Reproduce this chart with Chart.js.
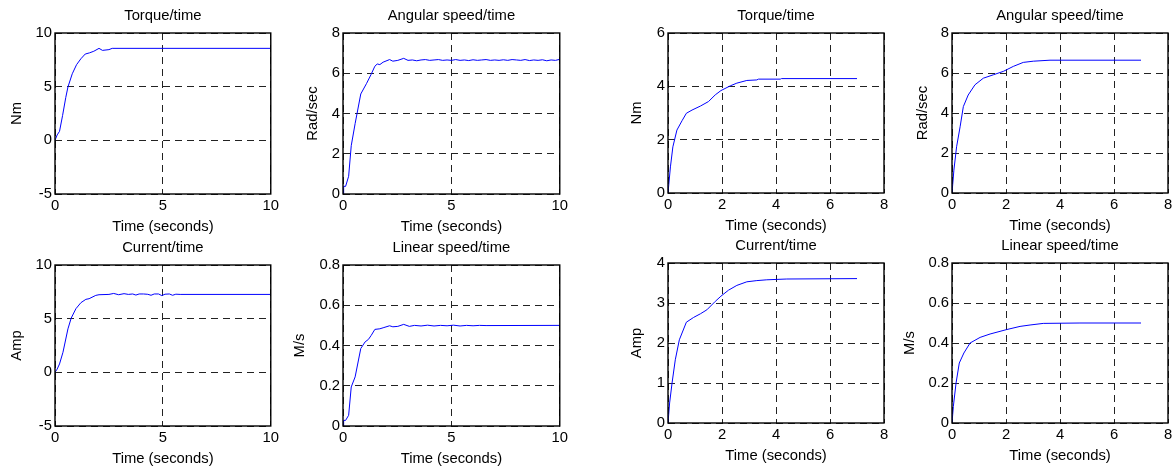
<!DOCTYPE html>
<html>
<head>
<meta charset="utf-8">
<script src="https://cdn.jsdelivr.net/npm/chart.js@4.4.1/dist/chart.umd.min.js"></script>
<style>
    html, body { margin: 0; padding: 0; background: #fff; }
    body { width: 1176px; height: 471px; position: relative; overflow: hidden; }
    .panel { position: absolute; }
</style>
</head>
<body>
<script>
// ===================================
// Data
// ===================================

// tick values
const xTicksLeft = [0, 5, 10];
const xTicksRight = [0, 2, 4, 6, 8];
const torqueTicksLeft = [-5, 0, 5, 10];
const angularTicksLeft = [0, 2, 4, 6, 8];
const currentTicksLeft = [-5, 0, 5, 10];
const linearTicksLeft = [0, 0.2, 0.4, 0.6, 0.8];
const torqueTicksRight = [0, 2, 4, 6];
const angularTicksRight = [0, 2, 4, 6, 8];
const currentTicksRight = [0, 1, 2, 3, 4];
const linearTicksRight = [0, 0.2, 0.4, 0.6, 0.8];

// left group (0..10 s)
const torqueLeftTime = [0, 0.1, 0.21, 0.35, 0.5, 0.6, 0.8, 1.0, 1.2, 1.4, 1.6, 1.8, 2.04, 2.2, 2.5, 2.65, 10];
const torqueLeftValue = [0, 0.5, 0.84, 2.3, 4.0, 4.97, 6.2, 7.05, 7.6, 8.04, 8.15, 8.3, 8.57, 8.38, 8.45, 8.57, 8.57];

const angularLeftTime = [0, 0.03, 0.12, 0.26, 0.38, 0.56, 0.82, 1.09, 1.3, 1.47, 1.58, 1.7, 1.85, 2.15, 2.3, 2.53, 2.8,
    3.0, 3.2, 3.4, 3.6, 3.8, 4.0, 4.2, 4.4, 4.6, 4.8, 5.0, 5.2, 5.4, 5.6, 5.8, 6.0, 6.2, 6.4, 6.6, 6.8,
    7.0, 7.2, 7.4, 7.6, 7.8, 8.0, 8.2, 8.4, 8.6, 8.8, 9.0, 9.2, 9.4, 9.6, 9.8, 10.0];
const angularLeftValue = [0, 0.38, 0.38, 0.88, 2.4, 3.5, 4.97, 5.5, 5.95, 6.35, 6.46, 6.43, 6.55, 6.68, 6.6, 6.64, 6.74,
    6.64, 6.66, 6.62, 6.66, 6.68, 6.64, 6.66, 6.68, 6.64, 6.66, 6.64, 6.68, 6.64, 6.66, 6.63, 6.67, 6.64, 6.66, 6.68, 6.64,
    6.66, 6.64, 6.67, 6.64, 6.68, 6.66, 6.64, 6.68, 6.63, 6.66, 6.64, 6.67, 6.62, 6.66, 6.64, 6.69];

const currentLeftTime = [0, 0.1, 0.21, 0.37, 0.6, 0.75, 0.97, 1.2, 1.43, 1.58, 1.89, 2.04, 2.5, 2.72, 2.95, 3.2, 3.4,
    3.6, 3.75, 3.9, 4.1, 4.3, 4.45, 4.6, 4.8, 4.95, 5.1, 5.3, 5.45, 5.6, 5.8, 10];
const currentLeftValue = [0, 0.3, 0.78, 1.87, 4.05, 5.05, 5.93, 6.49, 6.8, 6.86, 7.17, 7.23, 7.26, 7.35, 7.23, 7.33, 7.26,
    7.3, 7.2, 7.3, 7.3, 7.27, 7.18, 7.3, 7.3, 7.15, 7.28, 7.3, 7.18, 7.28, 7.26, 7.26];

const linearLeftTime = [0, 0.03, 0.12, 0.26, 0.38, 0.56, 0.82, 1.02, 1.17, 1.3, 1.47, 1.7, 1.85, 2.15, 2.3, 2.53, 2.8,
    3.06, 3.3, 3.6, 3.9, 4.2, 4.5, 4.8, 5.1, 5.4, 5.7, 6.0, 6.3, 6.6, 10];
const linearLeftValue = [0, 0.028, 0.028, 0.053, 0.194, 0.244, 0.385, 0.418, 0.43, 0.45, 0.48, 0.483, 0.488, 0.498, 0.493, 0.495, 0.505,
    0.495, 0.5, 0.497, 0.501, 0.497, 0.5, 0.498, 0.501, 0.497, 0.5, 0.498, 0.5, 0.499, 0.5];

// right group (0..7 s)
const torqueRightTime = [0, 0.09, 0.18, 0.33, 0.52, 0.68, 0.89, 1.2, 1.5, 1.75, 1.96, 2.31, 2.55, 2.92, 3.29, 3.35, 4.16, 4.2, 7.0];
const torqueRightValue = [0, 0.98, 1.73, 2.36, 2.71, 2.99, 3.11, 3.26, 3.43, 3.68, 3.84, 4.02, 4.12, 4.22, 4.24, 4.27, 4.27, 4.29, 4.29];

const angularRightTime = [0, 0.07, 0.17, 0.3, 0.42, 0.6, 0.85, 1.16, 1.53, 1.9, 2.27, 2.64, 3.01, 3.63, 7.0];
const angularRightValue = [0, 1.14, 2.31, 3.31, 4.32, 4.9, 5.41, 5.74, 5.91, 6.08, 6.33, 6.53, 6.59, 6.64, 6.64];

const currentRightTime = [0, 0.06, 0.15, 0.27, 0.42, 0.68, 0.95, 1.2, 1.44, 1.75, 1.96, 2.24, 2.55, 2.92, 3.29, 3.66, 4.4, 7.0];
const currentRightValue = [0, 0.5, 1.0, 1.58, 2.08, 2.52, 2.64, 2.73, 2.83, 3.04, 3.17, 3.32, 3.44, 3.53, 3.56, 3.58, 3.6, 3.61];

const linearRightTime = [0, 0.05, 0.15, 0.27, 0.44, 0.67, 1.04, 1.41, 2.02, 2.52, 2.89, 3.38, 4.74, 7.0];
const linearRightValue = [0, 0.083, 0.2, 0.3, 0.35, 0.4, 0.428, 0.445, 0.467, 0.483, 0.49, 0.498, 0.5, 0.5];

// ===================================
// Layout (plot box in page pixels + y-title centre)
// ===================================
const Y_AXIS_W = 64, X_AXIS_H = 45, TOP_H = 33, RIGHT_PAD = 8;
const FONT = { family: "'Liberation Sans', Arial, Helvetica, sans-serif", size: 14.8, lineHeight: 1.2 };
const HALF_LINE = FONT.size * FONT.lineHeight / 2;

const panels = [
    { title: 'Torque/time', yLabel: 'Nm', t: torqueLeftTime, v: torqueLeftValue, xTicks: xTicksLeft, yTicks: torqueTicksLeft, box: [55, 33, 274, 194], yTitleX: 17 },
    { title: 'Angular speed/time', yLabel: 'Rad/sec', t: angularLeftTime, v: angularLeftValue, xTicks: xTicksLeft, yTicks: angularTicksLeft, box: [343, 33, 563, 194], yTitleX: 313 },
    { title: 'Current/time', yLabel: 'Amp', t: currentLeftTime, v: currentLeftValue, xTicks: xTicksLeft, yTicks: currentTicksLeft, box: [55, 265, 274, 426], yTitleX: 17 },
    { title: 'Linear speed/time', yLabel: 'M/s', t: linearLeftTime, v: linearLeftValue, xTicks: xTicksLeft, yTicks: linearTicksLeft, box: [343, 265, 563, 426], yTitleX: 300 },
    { title: 'Torque/time', yLabel: 'Nm', t: torqueRightTime, v: torqueRightValue, xTicks: xTicksRight, yTicks: torqueTicksRight, box: [668, 33, 884, 193], yTitleX: 637 },
    { title: 'Angular speed/time', yLabel: 'Rad/sec', t: angularRightTime, v: angularRightValue, xTicks: xTicksRight, yTicks: angularTicksRight, box: [952, 33, 1168, 193], yTitleX: 923 },
    { title: 'Current/time', yLabel: 'Amp', t: currentRightTime, v: currentRightValue, xTicks: xTicksRight, yTicks: currentTicksRight, box: [668, 263, 884, 423], yTitleX: 637 },
    { title: 'Linear speed/time', yLabel: 'M/s', t: linearRightTime, v: linearRightValue, xTicks: xTicksRight, yTicks: linearTicksRight, box: [952, 263, 1168, 423], yTitleX: 910 }
];

// solid box round the plot area (MATLAB style)
const framePlugin = {
    id: 'frame',
    afterDraw(chart) {
        const { ctx, chartArea: a } = chart;
        ctx.save();
        ctx.setLineDash([]);
        ctx.strokeStyle = '#000';
        ctx.lineWidth = 1.4;
        ctx.strokeRect(a.left, a.top, a.right - a.left, a.bottom - a.top);
        ctx.restore();
    }
};

function makePanel(p) {
    const [L, T, R, B] = p.box;
    const x0 = L - Y_AXIS_W, y0 = T - TOP_H;
    const w = R - L + Y_AXIS_W + RIGHT_PAD;
    const h = B - T + TOP_H + X_AXIS_H;

    const div = document.createElement('div');
    div.className = 'panel';
    div.style.cssText = `left:${x0}px;top:${y0}px;width:${w}px;height:${h}px;`;
    const canvas = document.createElement('canvas');
    canvas.width = w;
    canvas.height = h;
    canvas.style.width = w + 'px';
    canvas.style.height = h + 'px';
    div.appendChild(canvas);
    document.body.appendChild(div);

    const gridOpts = { color: '#222', lineWidth: 1, drawTicks: false };
    const borderOpts = { display: false, dash: [7, 5] };
    const tickOpts = { color: '#000', font: FONT, padding: 3, maxRotation: 0, autoSkip: false, callback: v => String(v) };

    new Chart(canvas, {
        type: 'line',
        data: {
            datasets: [{
                data: p.t.map((t, i) => ({ x: t, y: p.v[i] })),
                borderColor: '#0000ff',
                borderWidth: 1,
                pointRadius: 0,
                tension: 0,
                fill: false
            }]
        },
        options: {
            responsive: false,
            animation: false,
            devicePixelRatio: 1,
            layout: { padding: { left: 0, right: RIGHT_PAD, top: 0, bottom: 0 } },
            plugins: {
                legend: { display: false },
                tooltip: { enabled: false },
                title: {
                    display: true,
                    text: p.title,
                    fullSize: false,
                    color: '#000',
                    font: { ...FONT, weight: 'normal' },
                    padding: { top: 6.7, bottom: TOP_H - 6.7 - 2 * HALF_LINE }
                }
            },
            scales: {
                x: {
                    type: 'linear',
                    min: p.xTicks[0],
                    max: p.xTicks[p.xTicks.length - 1],
                    afterBuildTicks: s => { s.ticks = p.xTicks.map(v => ({ value: v })); },
                    afterFit: s => { s.height = X_AXIS_H; },
                    grid: gridOpts,
                    border: borderOpts,
                    ticks: tickOpts,
                    title: { display: true, text: 'Time (seconds)', color: '#000', font: FONT, padding: { top: 0, bottom: 3.5 } }
                },
                y: {
                    min: p.yTicks[0],
                    max: p.yTicks[p.yTicks.length - 1],
                    afterBuildTicks: s => { s.ticks = p.yTicks.map(v => ({ value: v })); },
                    afterFit: s => { s.width = Y_AXIS_W; },
                    grid: gridOpts,
                    border: borderOpts,
                    ticks: tickOpts,
                    title: { display: true, text: p.yLabel, color: '#000', font: FONT, padding: { top: p.yTitleX - x0 - HALF_LINE, bottom: 0 } }
                }
            }
        },
        plugins: [framePlugin]
    });
}

panels.forEach(makePanel);
</script>
</body>
</html>
